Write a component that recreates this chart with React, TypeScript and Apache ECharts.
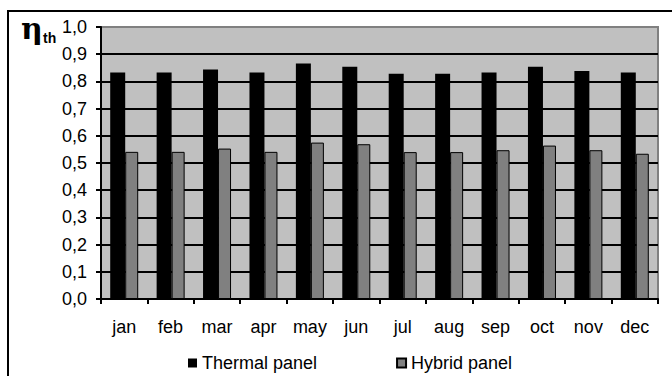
import React, { useEffect, useRef } from "react";
import * as echarts from "echarts";

const months = ["jan", "feb", "mar", "apr", "may", "jun", "jul", "aug", "sep", "oct", "nov", "dec"];
const thermal = [0.833, 0.833, 0.844, 0.833, 0.866, 0.854, 0.828, 0.828, 0.833, 0.854, 0.838, 0.833];
const hybrid = [0.541, 0.541, 0.553, 0.541, 0.575, 0.569, 0.54, 0.54, 0.547, 0.564, 0.547, 0.534];
const seriesNames = ["Thermal panel", "Hybrid panel"];

const FONT = "'Liberation Sans', Arial, sans-serif";
const FS = 18;

export default function App() {
  const ref = useRef<HTMLDivElement>(null);
  useEffect(() => {
    if (!ref.current) return;
    const chart = echarts.init(ref.current, null, { renderer: "svg" });
    const splitColors = ["#000", "#000", "#000", "#000", "#000", "#000", "#000", "#000", "#000", "#000", "#808080"];
    chart.setOption({
      animation: false,
      backgroundColor: "#fff",
      textStyle: { fontFamily: FONT },
      grid: {
        left: 101,
        right: 14,
        top: 27,
        bottom: 77,
        show: true,
        backgroundColor: "#c0c0c0",
        borderColor: "#808080",
        borderWidth: 2,
      },
      legend: {
        left: 188,
        top: 353,
        padding: 0,
        itemWidth: 9,
        itemHeight: 9,
        itemGap: 79,
        icon: "rect",
        textStyle: { fontSize: FS, lineHeight: 20, color: "#000", fontFamily: FONT },
        data: seriesNames,
      },
      xAxis: {
        type: "category",
        data: months,
        axisLine: { lineStyle: { color: "#000", width: 2 } },
        axisTick: { show: true, length: 5, lineStyle: { color: "#000", width: 2 } },
        axisLabel: { interval: 0, fontSize: FS, color: "#000", margin: 19, fontFamily: FONT },
        splitLine: { show: false },
      },
      yAxis: {
        type: "value",
        min: 0,
        max: 1,
        interval: 0.1,
        axisLine: { show: true, lineStyle: { color: "#000", width: 2 } },
        axisTick: { show: true, length: 5, lineStyle: { color: "#000", width: 2 } },
        axisLabel: {
          fontSize: FS,
          color: "#000",
          margin: 14,
          fontFamily: FONT,
          formatter: (v: number) => v.toFixed(1).replace(".", ","),
        },
        splitLine: { show: true, lineStyle: { color: splitColors, width: 2 } },
      },
      series: [
        {
          name: seriesNames[0],
          type: "bar",
          data: thermal,
          barWidth: 15,
          barGap: "0%",
          itemStyle: { color: "#000" },
        },
        {
          name: seriesNames[1],
          type: "bar",
          data: hybrid,
          barWidth: 13,
          barGap: "0%",
          itemStyle: { color: "#808080", borderColor: "#000", borderWidth: 1 },
        },
      ],
      graphic: [
        {
          type: "rect",
          shape: { x: 8, y: 11, width: 700, height: 400 },
          style: { fill: "none", stroke: "#000", lineWidth: 2 },
          silent: true,
        },
        {
          type: "text",
          x: 21,
          y: 28,
          style: {
            text: "η",
            font: "bold 30px 'DejaVu Serif', serif",
            fill: "#000",
            verticalAlign: "middle",
          },
        },
        {
          type: "text",
          x: 43,
          y: 38,
          style: {
            text: "th",
            font: "bold 14px 'Liberation Sans', Arial, sans-serif",
            fill: "#000",
            verticalAlign: "middle",
          },
        },
      ],
    });
    return () => chart.dispose();
  }, []);
  return (
    <div
      ref={ref}
      style={{ position: "fixed", left: 0, top: 0, width: 672, height: 376, background: "#fff" }}
    />
  );
}
